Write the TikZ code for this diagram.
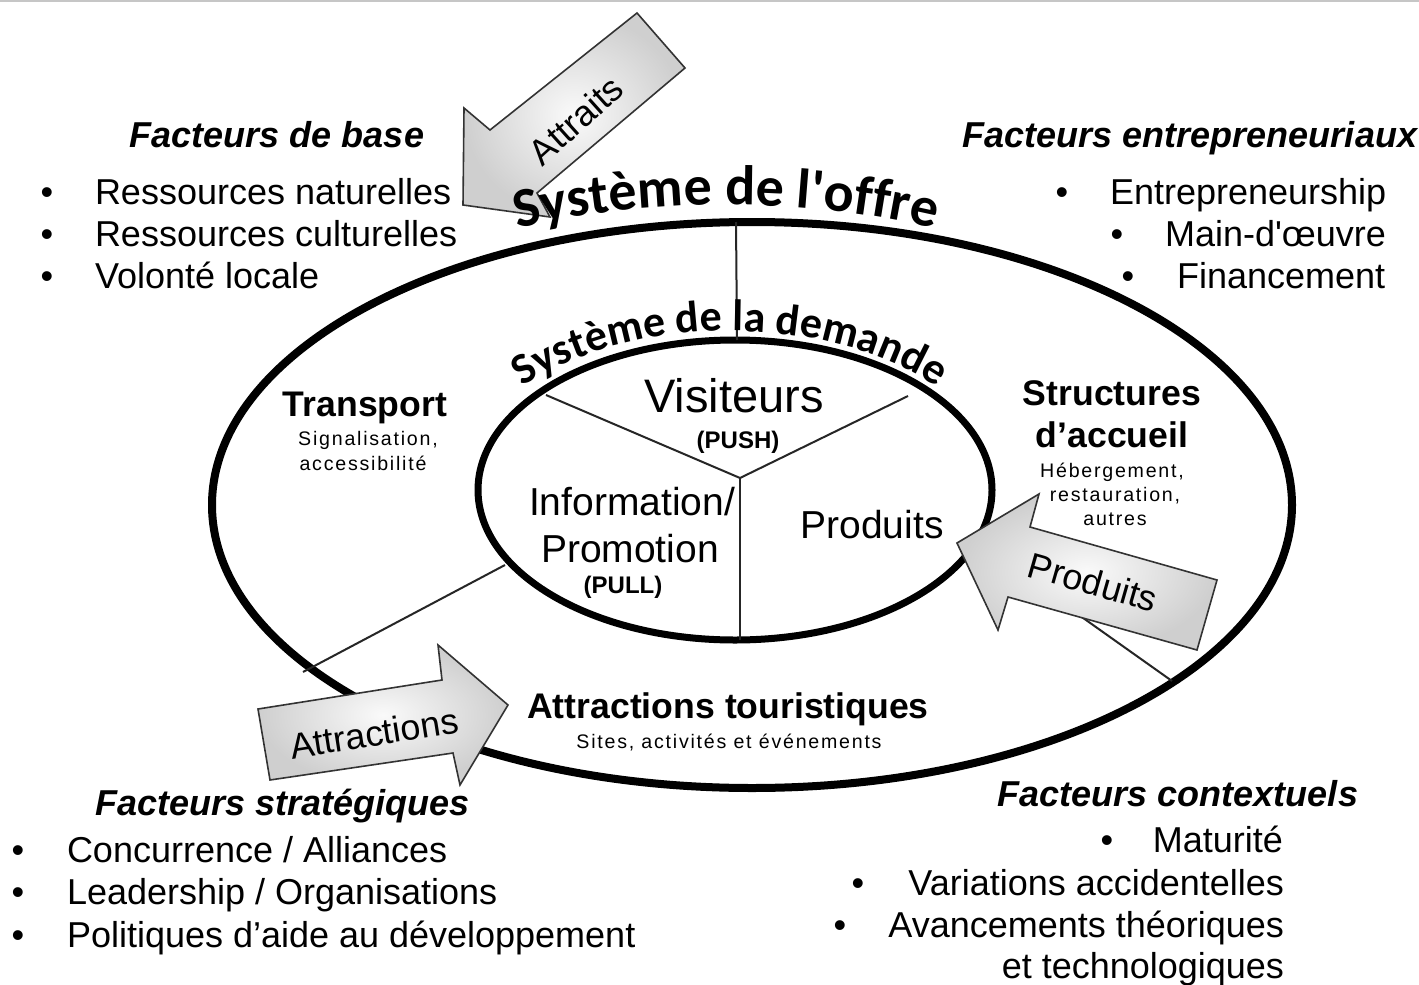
\documentclass[tikz,border=0pt]{standalone}
\usepackage{fontspec}
\setmainfont{Liberation Sans}
\newfontfamily\smallfont{Liberation Sans}[LetterSpace=9]
\newfontfamily\curvefont{Carlito}
\usetikzlibrary{shapes.geometric,decorations.text}
\begin{document}
\begin{tikzpicture}[x=1pt,y=1pt,
  txt/.style={inner sep=0pt, outer sep=0pt},
  body/.style={txt, font=\fontsize{36}{40}\selectfont},
  head/.style={txt, font=\fontsize{36}{40}\selectfont\bfseries\itshape},
  sect/.style={txt, font=\fontsize{35.6}{40}\selectfont\bfseries},
  small/.style={txt, font=\smallfont\fontsize{19.6}{22}\selectfont},
  inner/.style={txt, font=\fontsize{39}{44}\selectfont},
  tag/.style={txt, font=\fontsize{24}{26}\selectfont\bfseries},
  ring/.style={ellipse, draw=black, inner sep=0pt, outer sep=0pt},
  divider/.style={draw=black!85, line width=2pt},
  blockarrow/.style={draw=black!80, line width=1.6pt, line join=miter, inner color=gray!4, outer color=gray!38},
  arrowlabel/.style={txt, font=\fontsize{36}{40}\selectfont},
]
\useasboundingbox (0,0) rectangle (1419,-985);
\fill[white] (0,0) rectangle (1419,-985);
\draw[gray!45, line width=2.5pt] (0,-1) -- (1419,-1);

% rings
\node[ring, line width=8pt, minimum width=1080pt, minimum height=566pt] (outer) at (752,-505) {};
\node[ring, line width=7pt, minimum width=514pt, minimum height=300pt] (innerring) at (735,-490) {};

% divider coordinates
\coordinate (top1) at (736,-222);
\coordinate (top2) at (737,-340);
\coordinate (j) at (740,-478);
\coordinate (ul) at (546,-395);
\coordinate (ur) at (908,-396);
\coordinate (bt) at (740,-640);
\coordinate (ll1) at (505,-565);
\coordinate (ll2) at (303,-672);
\coordinate (lr1) at (976,-542);
\coordinate (lr2) at (1172,-681);

\draw[divider] (top1) -- (top2);
\draw[divider] (j) -- (ul);
\draw[divider] (j) -- (ur);
\draw[divider] (j) -- (bt);
\draw[divider] (ll1) -- (ll2);
\draw[divider] (lr1) -- (lr2);

% top-left factors
\node[head, anchor=base] (fb) at (277,-147) {Facteurs de base};
\node[body, anchor=base] (b1) at (47,-204) {•};
\node[body, anchor=base west] (t1) at (95,-204) {Ressources naturelles};
\node[body, anchor=base] (b2) at (47,-246) {•};
\node[body, anchor=base west] (t2) at (95,-246) {Ressources culturelles};
\node[body, anchor=base] (b3) at (47,-288) {•};
\node[body, anchor=base west] (t3) at (95,-288) {Volonté locale};

% top-right factors
\node[head, anchor=base] (fe) at (1190,-147) {Facteurs entrepreneuriaux};
\node[body, anchor=base] (b4) at (1062,-204) {•};
\node[body, anchor=base west] (t4) at (1110,-204) {Entrepreneurship};
\node[body, anchor=base] (b5) at (1117,-246) {•};
\node[body, anchor=base west] (t5) at (1165,-246) {Main-d\textquotesingle œuvre};
\node[body, anchor=base] (b6) at (1128,-288) {•};
\node[body, anchor=base west] (t6) at (1177,-288) {Financement};

% bottom-left factors
\node[head, anchor=base] (fs) at (283,-815) {Facteurs stratégiques};
\node[body, anchor=base] (b7) at (18,-862) {•};
\node[body, anchor=base west] (t7) at (67,-862) {Concurrence / Alliances};
\node[body, anchor=base] (b8) at (18,-904) {•};
\node[body, anchor=base west] (t8) at (67,-904) {Leadership / Organisations};
\node[body, anchor=base] (b9) at (18,-947) {•};
\node[body, anchor=base west] (t9) at (67,-947) {Politiques d’aide au développement};

% bottom-right factors
\node[head, anchor=base] (fc) at (1178,-806) {Facteurs contextuels};
\node[body, anchor=base] (b10) at (1107,-852) {•};
\node[body, anchor=base east] (t10) at (1283,-852) {Maturité};
\node[body, anchor=base] (b11) at (858,-895) {•};
\node[body, anchor=base east] (t11) at (1284,-895) {Variations accidentelles};
\node[body, anchor=base] (b12) at (840,-937) {•};
\node[body, anchor=base east] (t12) at (1284,-937) {Avancements théoriques};
\node[body, anchor=base east] (t13) at (1284,-978) {et technologiques};

% supply sectors
\node[sect, anchor=base] (tr) at (365,-416) {Transport};
\node[small, anchor=base] (tr1) at (368,-445) {Signalisation,};
\node[small, anchor=base] (tr2) at (363,-470) {accessibilité};

\node[sect, anchor=base] (sa) at (1112,-405) {Structures};
\node[sect, anchor=base] (sa2) at (1112,-447) {d’accueil};
\node[small, anchor=base] (sa3) at (1112,-477) {Hébergement,};
\node[small, anchor=base] (sa4) at (1115,-501) {restauration,};
\node[small, anchor=base] (sa5) at (1115,-525) {autres};

\node[sect, anchor=base] (at) at (728,-718) {Attractions touristiques};
\node[small, anchor=base] (at2) at (729,-748) {Sites, activités et événements};

% demand sectors
\node[txt, font=\fontsize{47}{52}\selectfont, anchor=base] (vis) at (734,-412) {Visiteurs};
\node[tag, anchor=base] (push) at (738,-448) {(PUSH)};
\node[inner, anchor=base] (info) at (632,-515) {Information/};
\node[inner, anchor=base] (promo) at (630,-562) {Promotion};
\node[tag, anchor=base] (pull) at (623,-593) {(PULL)};
\node[inner, anchor=base] (prod) at (872,-538) {Produits};

% block arrows
\draw[blockarrow] (637,-13) -- (685,-68) -- (537,-193) -- (550,-217) -- (463,-205) -- (464,-108) -- (490,-130) -- cycle;
\node[arrowlabel, rotate=42] (attraits) at (576,-120) {Attraits};

\draw[blockarrow] (957,-543) -- (1039,-494) -- (1030,-527) -- (1217,-580) -- (1197,-650) -- (1008,-597) -- (998,-630) -- cycle;
\node[arrowlabel, rotate=-16] (produits) at (1093,-582) {Produits};

\draw[blockarrow] (258,-709) -- (442,-680) -- (438,-645) -- (508,-705) -- (460,-785) -- (453,-753) -- (270,-780) -- cycle;
\node[arrowlabel, rotate=9] (attractions) at (374,-733) {Attractions};

% curved titles
\path[decorate, decoration={text along path, text align=center,
  text={|\curvefont\bfseries\fontsize{56}{56}\selectfont|Système de l'offre}}]
  (726,-505) ++(160:540 and 300) arc[start angle=160, end angle=20, x radius=540, y radius=300];
\path[decorate, decoration={text along path, text align=center,
  text={|\curvefont\bfseries\fontsize{44}{44}\selectfont|Système de la demande}}]
  (730,-490) ++(172:272 and 159) arc[start angle=172, end angle=8, x radius=272, y radius=159];
\end{tikzpicture}
\end{document}
